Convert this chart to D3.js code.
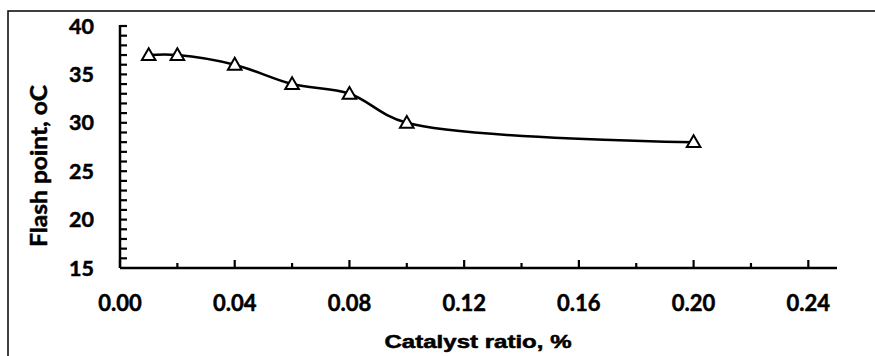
<!DOCTYPE html>
<html><head><meta charset="utf-8">
<script src="https://cdn.jsdelivr.net/npm/d3@7"></script>
<style>body{margin:0;background:#fff}</style>
</head><body>
<svg id="c" width="875" height="356"></svg>
<script>
const catalystRatio = [0.01, 0.02, 0.04, 0.06, 0.08, 0.10, 0.20];
const flashPoint = [37, 37, 36, 34, 33, 30, 28];
const xTicks = [0.00, 0.04, 0.08, 0.12, 0.16, 0.20, 0.24];
const yTicks = [15, 20, 25, 30, 35, 40];
const xTitle = "Catalyst ratio, %";
const yTitle = "Flash point, oC";

const svg = d3.select("#c");
// outer border
svg.append("rect").attr("x", 8).attr("y", 11).attr("width", 900).attr("height", 400)
  .attr("fill", "none").attr("stroke", "#000").attr("stroke-width", 1.5);

const x = d3.scaleLinear().domain([0, 0.25]).range([120, 837]);
const y = d3.scaleLinear().domain([15, 40]).range([268, 26]);

const labelFont = "Lato, 'Open Sans', sans-serif";

// x axis
const gx = svg.append("g").attr("transform", `translate(0,${y(15)})`);
gx.append("line").attr("x1", x(0)).attr("x2", x(0.25)).attr("stroke", "#000").attr("stroke-width", 2.5);
const xMinor = d3.range(0, 0.25, 0.02);
gx.selectAll(".xt").data(xMinor).join("line")
  .attr("x1", d => x(d)).attr("x2", d => x(d))
  .attr("y1", 0).attr("y2", (d, i) => i % 2 === 0 ? -8 : -5)
  .attr("stroke", "#000").attr("stroke-width", 2.2);
svg.selectAll(".xl").data(xTicks).join("text")
  .attr("x", d => x(d)).attr("y", 311)
  .attr("text-anchor", "middle")
  .attr("font-family", labelFont).attr("font-weight", "bold").attr("font-size", 22)
  .attr("stroke", "#000").attr("stroke-width", 0.5)
  .text(d => d.toFixed(2));

// y axis
const gy = svg.append("g").attr("transform", `translate(${x(0)},0)`);
gy.append("line").attr("y1", y(15)).attr("y2", y(40) - 1).attr("stroke", "#000").attr("stroke-width", 2.5);
gy.selectAll(".yt").data(d3.range(16, 41, 1)).join("line")
  .attr("x1", 0).attr("x2", 7)
  .attr("y1", d => y(d)).attr("y2", d => y(d))
  .attr("stroke", "#000").attr("stroke-width", 2.2);
svg.selectAll(".yl").data(yTicks).join("text")
  .attr("x", 94).attr("y", d => y(d) + 7.5)
  .attr("text-anchor", "end")
  .attr("font-family", labelFont).attr("font-weight", "bold").attr("font-size", 21.5)
  .attr("stroke", "#000").attr("stroke-width", 0.5)
  .text(d => d);

// titles
svg.append("text").attr("x", 478).attr("y", 348).attr("text-anchor", "middle")
  .attr("font-family", "'Liberation Sans', Arial, sans-serif").attr("font-weight", "bold").attr("font-size", 17.5)
  .attr("stroke", "#000").attr("stroke-width", 0.5)
  .attr("textLength", 187).attr("lengthAdjust", "spacingAndGlyphs")
  .text(xTitle);
svg.append("text").attr("transform", "translate(47,166) rotate(-90)").attr("text-anchor", "middle")
  .attr("font-family", labelFont).attr("font-weight", "bold").attr("font-size", 22)
  .attr("stroke", "#000").attr("stroke-width", 0.5)
  .attr("textLength", 162).attr("lengthAdjust", "spacingAndGlyphs")
  .text(yTitle);

// line
const pts = catalystRatio.map((c, i) => [c, flashPoint[i]]);
const line = d3.line().x(d => x(d[0])).y(d => y(d[1])).curve(d3.curveCatmullRom.alpha(0.5));
svg.append("path").attr("d", line(pts)).attr("fill", "none").attr("stroke", "#000").attr("stroke-width", 2.5);

// markers
const tri = d3.symbol().type(d3.symbolTriangle).size(80);
svg.selectAll(".m").data(pts).join("path")
  .attr("d", tri)
  .attr("transform", d => `translate(${x(d[0])},${y(d[1]) + 1})`)
  .attr("fill", "#fff").attr("stroke", "#000").attr("stroke-width", 2);
</script>
</body></html>
